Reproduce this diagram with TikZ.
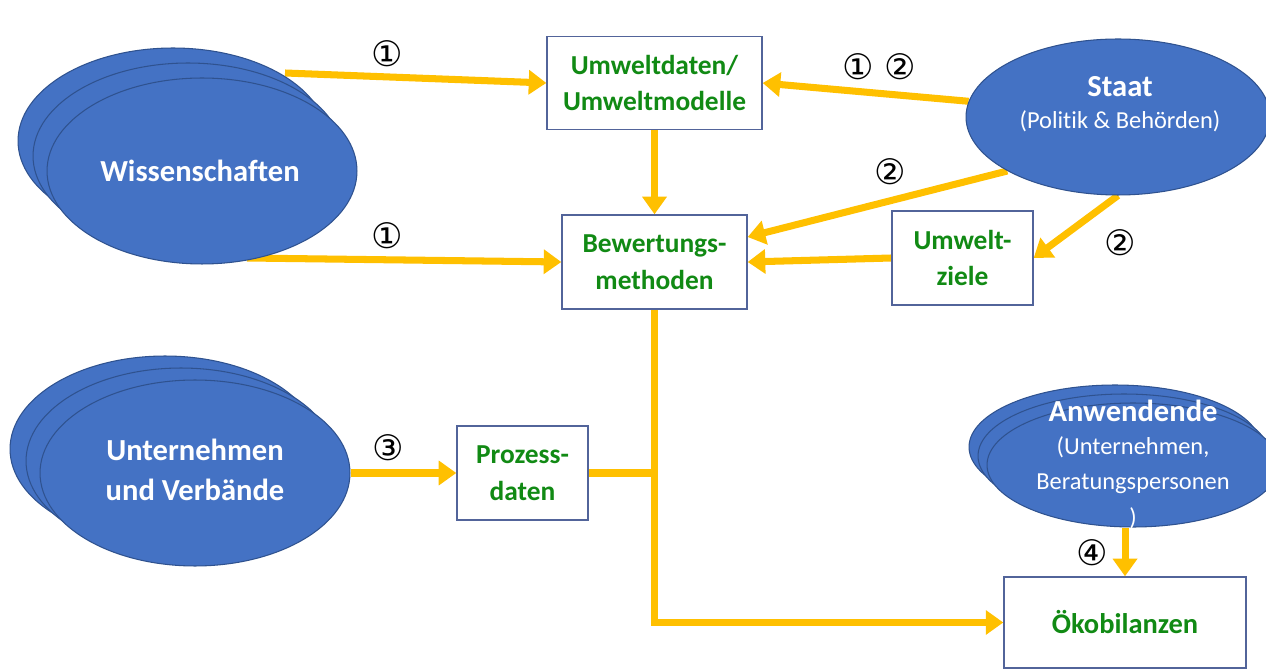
\documentclass[tikz,border=0pt]{standalone}
\usepackage{fontspec}
\setmainfont{Carlito}[Ligatures=NoCommon]
\newfontfamily\symfont{DejaVu Sans}
\usetikzlibrary{arrows.meta,shapes.geometric,calc,backgrounds}
\definecolor{gold}{HTML}{FFC000}
\definecolor{ellblue}{HTML}{4472C4}
\definecolor{elledge}{HTML}{2F528F}
\definecolor{boxedge}{HTML}{52649A}
\definecolor{dgreen}{HTML}{118A14}
\tikzset{
  ell/.style={ellipse, draw=elledge, line width=0.6pt, fill=ellblue, inner sep=0pt},
  bigell/.style={ell, minimum width=6.2cm, minimum height=3.72cm},
  smallell/.style={ell, minimum width=5.84cm, minimum height=2.48cm},
  box/.style={rectangle, draw=boxedge, line width=0.8pt, fill=white, inner sep=0pt,
    font=\bfseries\fontsize{15.6}{21}\selectfont, text=dgreen, align=center},
  flow/.style={draw=gold, line width=4pt, -{Triangle[length=10pt,width=13.5pt]}},
  link/.style={draw=gold, line width=4pt},
  num/.style={font=\symfont\fontsize{20}{20}\selectfont, inner sep=0pt},
  eltext/.style={text=white, align=center, font=\bfseries\fontsize{17.4}{22.7}\selectfont},
  elsub/.style={text=white, align=center, font=\fontsize{13.9}{20.4}\selectfont},
}
\begin{document}
\begin{tikzpicture}[x=0.02cm,y=-0.02cm]
\useasboundingbox (0,0) rectangle (1266,671);

% boxes
\node[box, minimum width=4.3cm, minimum height=1.86cm] (umw) at (654.5,83) {Umweltdaten/\\Umweltmodelle};
\node[box, minimum width=3.7cm, minimum height=1.88cm] (bew) at (654.5,262) {Bewertungs-\\methoden};
\node[box, minimum width=2.82cm, minimum height=1.88cm] (ziele) at (962.5,258) {Umwelt-\\ziele};
\node[box, minimum width=2.62cm, minimum height=1.88cm] (proz) at (522.5,473) {Prozess-\\daten};
\node[box, minimum width=4.84cm, minimum height=1.82cm, font=\bfseries\fontsize{16.2}{21}\selectfont] (oeko) at (1125,622.5) {Ökobilanzen};

% ellipses
\node[bigell] (wissC) at (173,141) {};
\node[bigell] (wissB) at (188,156) {};
\node[bigell] (wissA) at (202,171) {};
\node[eltext] (wisst) at (200,171) {Wissenschaften};

\node[bigell] (untC) at (165,449) {};
\node[bigell] (untB) at (181,461) {};
\node[bigell] (untA) at (195,473) {};
\node[eltext] (untt) at (195,470) {Unternehmen\\und Verbände};

\node[ell, minimum width=6.08cm, minimum height=3.12cm] (staat) at (1118,117) {};
\node[eltext] (staatt) at (1120,87) {Staat};
\node[elsub] (staats) at (1120,121) {(Politik \& Behörden)};

\node[smallell] (anwC) at (1115,447) {};
\node[smallell] (anwB) at (1124,456) {};
\node[smallell] (anwA) at (1133,465) {};
\node[eltext] (anwt) at (1133,411) {Anwendende};
\node[elsub, anchor=north] (anws) at (1133,430) {(Unternehmen,\\Beratungspersonen\\)};

% numbers
\node[num] (n1) at (387,54) {①};
\node[num] (n2) at (387,236) {①};
\node[num] (n3) at (858,67) {①};
\node[num] (n4) at (900,67) {②};
\node[num] (n5) at (890,172) {②};
\node[num] (n6) at (1120,243) {②};
\node[num] (n7) at (388,448) {③};
\node[num] (n8) at (1092,553) {④};

\begin{pgfonlayer}{background}
\fill[white] (0,0) rectangle (1266,671);
\draw[flow] ($(wissB.center)+(97,-83)$) -- (umw.west);
\draw[flow] ($(wissA.center)+(45,87)$) -- (bew.west);
\draw[flow] (umw.south) -- (bew.north);
\draw[flow] (staat.174) -- (umw.east);
\draw[flow] (staat.206) -- (bew.15);
\draw[flow] (staat.south) -- (ziele.east);
\draw[flow] (ziele.west) -- (bew.east);
\draw[flow] (untA.east) -- (proz.west);
\draw[flow] (bew.south) |- (oeko.west);
\draw[link] (proz.east) -- (proz.east -| bew.south);
\draw[flow] (oeko.north |- anwA.south) -- (oeko.north);
\end{pgfonlayer}
\end{tikzpicture}
\end{document}
